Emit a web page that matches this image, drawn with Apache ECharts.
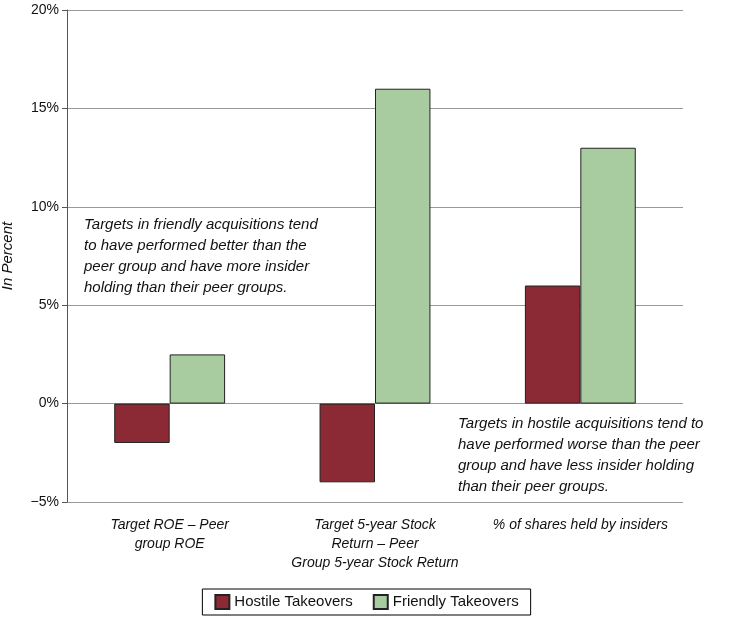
<!DOCTYPE html>
<html><head><meta charset="utf-8">
<script src="https://cdn.jsdelivr.net/npm/echarts@6/dist/echarts.min.js"></script>
<style>html,body{margin:0;padding:0;background:#fff}#c{width:733px;height:617px}</style>
</head><body><div id="c"></div>
<script>
const categories = ['Target ROE – Peer\ngroup ROE', 'Target 5-year Stock\nReturn – Peer\nGroup 5-year Stock Return', '% of shares held by insiders'];
const hostile = [-2, -4, 6];
const friendly = [2.5, 16, 13];
const yTicks = [-5, 0, 5, 10, 15, 20];
const chart = echarts.init(document.getElementById('c'));
const font = 'Liberation Sans, Arial, sans-serif';
chart.setOption({
  animation: false,
  grid: {left: 67, right: 50, top: 10, bottom: 115, containLabel: false, outerBoundsMode: 'none'},
  legend: {
    bottom: 2, left: 'center', itemWidth: 14, itemHeight: 14, itemGap: 20, icon: 'rect',
    borderColor: '#000', borderWidth: 1, padding: [5, 12], borderRadius: 0,
    textStyle: {fontFamily: font, fontSize: 15, color: '#111'},
    data: ['Hostile Takeovers', 'Friendly Takeovers']
  },
  xAxis: {
    type: 'category', data: categories, position: 'bottom',
    axisLine: {show: false}, axisTick: {show: false},
    axisLabel: {fontFamily: font, fontStyle: 'italic', fontSize: 14, color: '#111', margin: 14, lineHeight: 19, interval: 0}
  },
  yAxis: {
    type: 'value', min: -5, max: 20, interval: 5,
    name: 'In Percent', nameLocation: 'middle', nameGap: 52,
    nameTextStyle: {fontFamily: font, fontStyle: 'italic', fontSize: 15, color: '#111'},
    axisLine: {show: true, lineStyle: {color: '#555'}},
    axisTick: {show: true, lineStyle: {color: '#555'}},
    axisLabel: {fontFamily: font, fontSize: 14, color: '#111', formatter: v => yTicks.includes(v) ? (v < 0 ? '−' + (-v) : v) + '%' : ''},
    splitLine: {lineStyle: {color: '#999'}}
  },
  series: [
    {name: 'Hostile Takeovers', type: 'bar', data: hostile, barGap: '0%', barCategoryGap: '46%',
     itemStyle: {color: '#8b2a35', borderColor: '#222', borderWidth: 1}},
    {name: 'Friendly Takeovers', type: 'bar', data: friendly,
     itemStyle: {color: '#a8cc9f', borderColor: '#222', borderWidth: 1}}
  ],
  graphic: [
    {type: 'text', left: 84, top: 214, style: {text: 'Targets in friendly acquisitions tend\nto have performed better than the\npeer group and have more insider\nholding than their peer groups.', font: 'italic 15px ' + font, fill: '#111', lineHeight: 21}},
    {type: 'text', left: 458, top: 413, style: {text: 'Targets in hostile acquisitions tend to\nhave performed worse than the peer\ngroup and have less insider holding\nthan their peer groups.', font: 'italic 15px ' + font, fill: '#111', lineHeight: 21, backgroundColor: '#fff'}}
  ]
});
</script></body></html>
